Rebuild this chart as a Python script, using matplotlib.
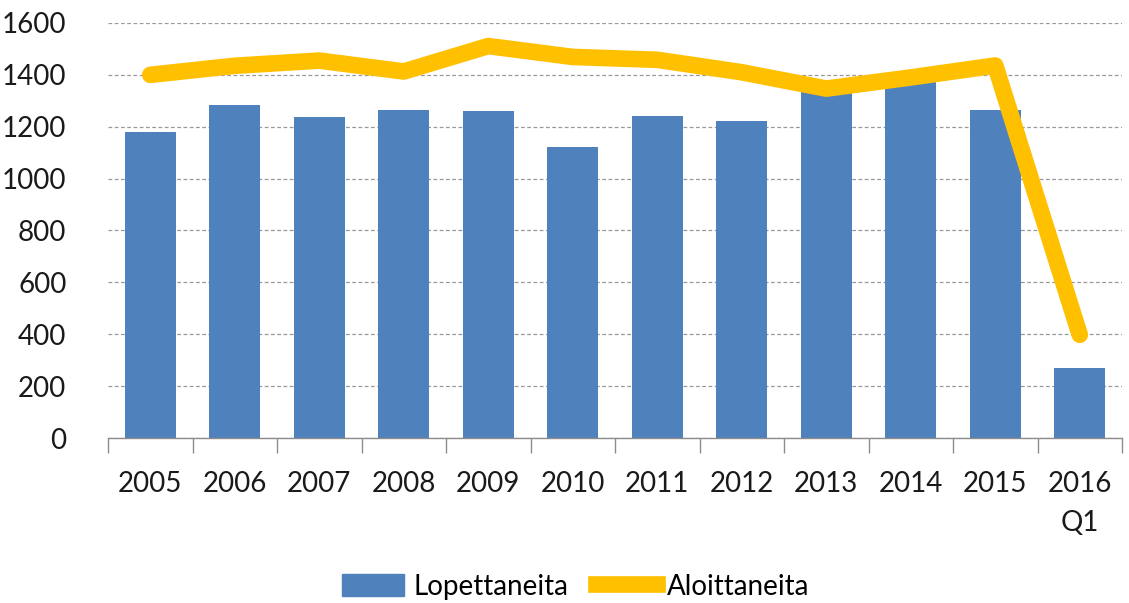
import numpy as np
import matplotlib.pyplot as plt
from matplotlib.ticker import FixedLocator, NullFormatter
from matplotlib.lines import Line2D
from matplotlib.patches import Patch

plt.rcParams['font.family'] = ['Lato', 'DejaVu Sans']

# Data
years = ['2005', '2006', '2007', '2008', '2009', '2010',
         '2011', '2012', '2013', '2014', '2015', '2016\nQ1']
lopettaneita = [1181, 1283, 1236, 1264, 1260, 1121, 1241, 1223, 1340, 1375, 1266, 271]
aloittaneita = [1400, 1435, 1455, 1413, 1511, 1469, 1458, 1410, 1347, 1390, 1436, 398]

bar_color = '#4F81BD'
line_color = '#FFC000'

fig = plt.figure(figsize=(11.29, 6.03), dpi=100)
ax = fig.add_axes([0.0957, 0.2736, 0.8981, 0.6883])

x = np.arange(len(years))
ax.bar(x, lopettaneita, width=0.6, color=bar_color, zorder=2)
ax.plot(x, aloittaneita, color=line_color, lw=12, solid_capstyle='round',
        solid_joinstyle='round', zorder=3)

ax.set_xlim(-0.5, len(years) - 0.5)
ax.set_ylim(0, 1600)
ax.set_yticks(np.arange(0, 1601, 200))
ax.yaxis.grid(True, color='#999999', linestyle=(0, (3, 2)), lw=0.9, zorder=0)

ax.set_xticks(x)
ax.set_xticklabels(years, linespacing=1.6)
ax.xaxis.set_minor_locator(FixedLocator(np.arange(-0.5, len(years), 1)))
ax.xaxis.set_minor_formatter(NullFormatter())
ax.tick_params(axis='x', which='major', length=0, pad=24, labelsize=20, colors='#1a1a1a')
ax.tick_params(axis='x', which='minor', length=11, width=1, color='#8c8c8c')
ax.tick_params(axis='y', length=0, pad=30, labelsize=20, colors='#1a1a1a')

for s in ['top', 'right', 'left']:
    ax.spines[s].set_visible(False)
ax.spines['bottom'].set_color('#8c8c8c')
ax.spines['bottom'].set_linewidth(1)

handles = [Patch(color=bar_color, label='Lopettaneita'),
           Line2D([], [], color=line_color, lw=12, label='Aloittaneita')]
fig.legend(handles=handles, loc='center', bbox_to_anchor=(0.51, 0.027), ncol=2,
           frameon=False, fontsize=20, handlelength=2.2, handleheight=0.85,
           columnspacing=1.0, handletextpad=0.35)

fig.savefig('out.png', dpi=100)
